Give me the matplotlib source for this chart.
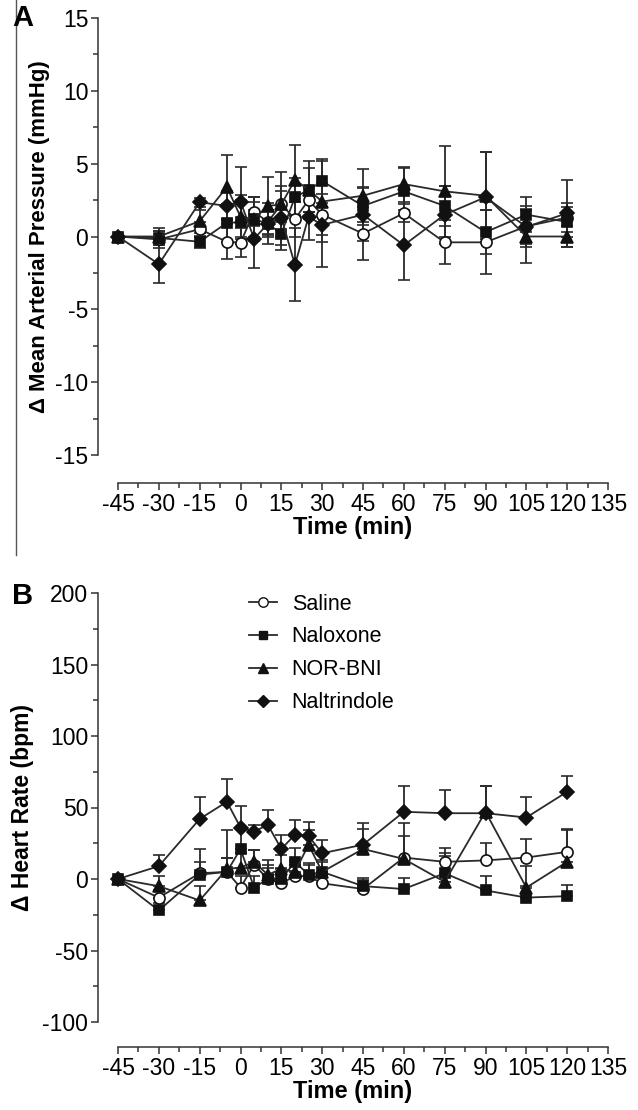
import matplotlib

matplotlib.use("Agg")

import matplotlib.pyplot as plt
import numpy as np
from matplotlib.lines import Line2D
from matplotlib.ticker import MultipleLocator

plt.rcParams["font.family"] = ["Liberation Sans", "DejaVu Sans"]
plt.rcParams["axes.unicode_minus"] = False

times = [-45, -30, -15, -5, 0, 5, 10, 15, 20, 25, 30, 45, 60, 75, 90, 105, 120]
groups = ["Saline", "Naloxone", "NOR-BNI", "Naltrindole"]

# panel A: change in mean arterial pressure (mmHg), mean and SEM
map_saline = [0, -0.2, 0.5, -0.36, -0.43, 1.7, 1.0, 2.2, 1.2, 2.5, 1.5, 0.2, 1.6, -0.4, -0.4, 0.7, 1.3]
map_naloxone = [0, -0.1, -0.36, 0.94, 0.98, 1.2, 0.87, 0.2, 2.7, 3.2, 3.8, 2.1, 3.1, 2.1, 0.3, 1.5, 1.0]
map_norbni = [0, 0.0, 1.05, 3.4, 1.35, 1.2, 2.1, 2.2, 3.9, 3.2, 2.4, 2.8, 3.6, 3.1, 2.8, 0.0, 0.0]
map_naltrindole = [0, -1.9, 2.35, 2.1, 2.4, -0.16, 0.87, 1.3, -1.95, 1.35, 0.8, 1.5, -0.6, 1.5, 2.7, 0.66, 1.6]

map_saline_err = [0, 0.6, 0.5, 1.2, 1.0, 1.0, 0.8, 0.9, 1.2, 0.8, 1.4, 1.8, 0.6, 1.5, 2.2, 1.2, 1.0]
map_naloxone_err = [0, 0.5, 0.4, 1.3, 1.5, 1.2, 0.9, 0.8, 1.3, 1.5, 1.5, 1.3, 1.6, 1.4, 1.5, 1.2, 1.0]
map_norbni_err = [0, 0.6, 0.8, 2.2, 1.5, 1.5, 2.0, 2.2, 2.4, 2.0, 2.8, 1.8, 1.2, 3.1, 3.0, 1.8, 0.7]
map_naltrindole_err = [0, 1.3, 0.3, 1.0, 2.4, 2.0, 1.4, 2.2, 2.5, 1.6, 2.9, 1.8, 2.4, 2.0, 3.1, 1.4, 2.3]

# panel B: change in heart rate (bpm), mean and SEM
hr_saline = [0, -13, 4, 5, -6, 10, 0, -3, 2, 2, -3, -7, 15, 12, 13, 15, 19]
hr_naloxone = [0, -22, 3, 5, 21, -6, 0, 0, 12, 3, 5, -5, -7, 4, -8, -13, -12]
hr_norbni = [0, -5, -15, 7, 8, 12, 3, 7, 5, 24, 5, 21, 14, -2, 47, -6, 12]
hr_naltrindole = [0, 9, 42, 54, 36, 33, 38, 21, 31, 30, 18, 24, 47, 46, 46, 43, 61]

hr_saline_err = [0, 5, 8, 10, 8, 10, 10, 8, 8, 8, 6, 6, 15, 10, 12, 13, 16]
hr_naloxone_err = [0, 5, 18, 10, 15, 8, 8, 8, 10, 8, 7, 6, 8, 12, 10, 8, 8]
hr_norbni_err = [0, 7, 10, 27, 10, 8, 10, 10, 8, 10, 8, 14, 25, 20, 18, 15, 22]
hr_naltrindole_err = [0, 8, 15, 16, 15, 5, 10, 10, 10, 10, 9, 15, 18, 16, 19, 14, 11]

styles = {
    "Saline": dict(marker="o", mfc="white"),
    "Naloxone": dict(marker="s", mfc="#111111"),
    "NOR-BNI": dict(marker="^", mfc="#111111"),
    "Naltrindole": dict(marker="D", mfc="#111111"),
}
msize = {"o": 8, "s": 7.5, "^": 8, "D": 7}


def draw(ax, means, errs, upper_only):
    for name, y, e in zip(groups, means, errs):
        st = styles[name]
        e = np.asarray(e, dtype=float)
        yerr = [np.zeros_like(e), e] if upper_only else e
        ax.errorbar(times, y, yerr=yerr, color="#2a2a2a", lw=1.3,
                    elinewidth=1.3, capsize=4, capthick=1.3,
                    marker=st["marker"], ms=msize[st["marker"]],
                    mfc=st["mfc"], mec="#111111", mew=1.2, label=name)


def style_axis(ax, ylim, ymajor, yminor, offset_px):
    ax.set_xlim(-52.35, 135)
    ax.set_ylim(*ylim)
    for s in ("top", "right"):
        ax.spines[s].set_visible(False)
    ax.spines["left"].set_bounds(*ylim)
    ax.spines["bottom"].set_bounds(-45, 135)
    ax.spines["bottom"].set_position(("outward", offset_px * 0.72))
    for s in ("left", "bottom"):
        ax.spines[s].set_linewidth(1.1)
        ax.spines[s].set_color("#333333")
    ax.set_xticks(np.arange(-45, 136, 15))
    ax.xaxis.set_minor_locator(MultipleLocator(7.5))
    ax.yaxis.set_major_locator(MultipleLocator(ymajor))
    ax.yaxis.set_minor_locator(MultipleLocator(yminor))
    ax.tick_params(which="major", length=5, width=1.1, labelsize=16.5,
                   color="#333333", pad=2)
    ax.tick_params(which="minor", length=3.5, width=1.1, color="#333333")
    ax.set_xlabel("Time (min)", fontsize=17, fontweight="bold", labelpad=0)


fig = plt.figure(figsize=(6.38, 11.1), dpi=100)

axA = fig.add_axes([98 / 638, 1 - 455 / 1110, 510 / 638, 437 / 1110])
draw(axA, [map_saline, map_naloxone, map_norbni, map_naltrindole],
     [map_saline_err, map_naloxone_err, map_norbni_err, map_naltrindole_err],
     upper_only=False)
style_axis(axA, (-15, 15), 5, 2.5, 28)
axA.set_ylabel("\u0394 Mean Arterial Pressure (mmHg)", fontsize=16,
               fontweight="bold", labelpad=4)

axB = fig.add_axes([98 / 638, 1 - 1022 / 1110, 510 / 638, 429 / 1110])
draw(axB, [hr_saline, hr_naloxone, hr_norbni, hr_naltrindole],
     [hr_saline_err, hr_naloxone_err, hr_norbni_err, hr_naltrindole_err],
     upper_only=True)
style_axis(axB, (-100, 200), 50, 25, 25)
axB.set_ylabel("\u0394 Heart Rate (bpm)", fontsize=16.5, fontweight="bold",
               labelpad=6)

handles = [Line2D([], [], color="#2a2a2a", lw=1.3, marker=styles[g]["marker"],
                  ms=msize[styles[g]["marker"]] * 0.85, mfc=styles[g]["mfc"],
                  mec="#111111") for g in groups]
fig.legend(handles, groups, loc="upper left",
           bbox_to_anchor=(240 / 638, 1 - 585 / 1110), frameon=False,
           fontsize=15.5, handlelength=1.3, handletextpad=0.7,
           labelspacing=0.55, borderaxespad=0)

fig.text(12 / 638, 1 - 18 / 1110, "A", fontsize=21, fontweight="bold",
         va="center", ha="left")
fig.text(12 / 638, 1 - 596 / 1110, "B", fontsize=21, fontweight="bold",
         va="center", ha="left")
fig.add_artist(Line2D([16 / 638, 16 / 638], [1, 1 - 555 / 1110],
                      color="#555555", lw=1.0))

fig.savefig("out.png", dpi=100)
